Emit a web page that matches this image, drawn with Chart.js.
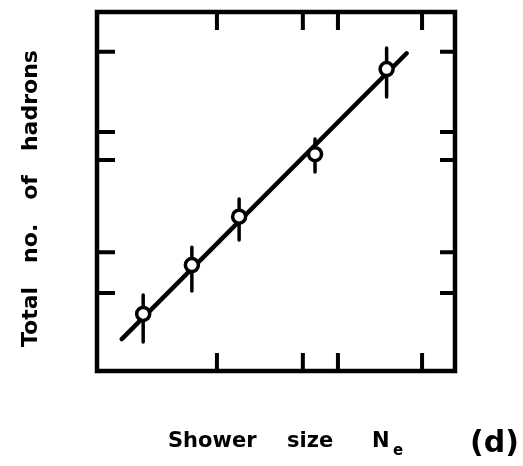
<!DOCTYPE html>
<html>
<head>
<meta charset="utf-8">
<script src="https://cdn.jsdelivr.net/npm/chart.js@4"></script>
<style>
  body { margin: 0; background: #fff; }
  canvas { display: block; }
</style>
</head>
<body>
<canvas id="canvas" width="523" height="466"></canvas>
<script>
var canvas = document.getElementById("canvas");
var ctx = canvas.getContext("2d");

// values (axes have no numbers, so 0..100 units)
var pointX = [12.9, 26.5, 39.7, 60.9, 80.9];
var pointY = [15.9, 29.5, 43.0, 60.4, 84.1];
var errLow = [8.1, 22.3, 36.5, 55.4, 76.3];
var errHigh = [21.2, 34.5, 47.9, 64.6, 90.0];
var fitX = [6.9, 86.5];
var fitY = [8.9, 88.5];
var xTicks = [33.5, 57.5, 67.3, 90.8];
var yTicks = [21.7, 33.1, 58.8, 66.6, 88.9];

var yWords = ["Total", "no.", "of", "hadrons"];

var datasets = [];

datasets.push({
    type: 'line',
    data: fitX.map(function (x, i) { return {x: x, y: fitY[i]}; }),
    borderColor: '#000',
    borderWidth: 4.5,
    borderCapStyle: 'round',
    pointRadius: 0,
    order: 3
});

for (let i = 0; i < pointX.length; i++) {
    datasets.push({
        type: 'line',
        data: [{x: pointX[i], y: errLow[i]}, {x: pointX[i], y: errHigh[i]}],
        borderColor: '#000',
        borderWidth: 3.5,
        borderCapStyle: 'round',
        pointRadius: 0,
        order: 2
    });
}

datasets.push({
    type: 'scatter',
    data: pointX.map(function (x, i) { return {x: x, y: pointY[i]}; }),
    pointRadius: 6.5,
    pointBorderWidth: 3.5,
    borderColor: '#000',
    backgroundColor: '#fff',
    order: 1
});

var framePlugin = {
    id: 'frame',
    afterDatasetsDraw: function (chart) {
        var a = chart.chartArea;
        var xs = chart.scales.x, ys = chart.scales.y;
        var c = chart.ctx;
        c.save();
        c.strokeStyle = '#000';
        c.lineCap = 'square';
        c.lineWidth = 4.5;
        c.strokeRect(a.left, a.top, a.right - a.left, a.bottom - a.top);

        c.lineWidth = 4;
        c.lineCap = 'butt';
        let len = 18;
        xTicks.forEach(function (v) {
            let px = xs.getPixelForValue(v);
            c.beginPath();
            c.moveTo(px, a.bottom); c.lineTo(px, a.bottom - len);
            c.moveTo(px, a.top); c.lineTo(px, a.top + len);
            c.stroke();
        });
        yTicks.forEach(function (v) {
            let py = ys.getPixelForValue(v);
            c.beginPath();
            c.moveTo(a.left, py); c.lineTo(a.left + len, py);
            c.moveTo(a.right, py); c.lineTo(a.right - 15, py);
            c.stroke();
        });

        // axis titles
        c.fillStyle = '#000';
        c.textBaseline = 'alphabetic';
        c.textAlign = 'left';
        c.font = 'bold 21px "DejaVu Sans"';
        c.fillText('Shower', 168, 447);
        c.fillText('size', 287, 447);
        c.fillText('N', 372, 447);
        c.font = 'bold 15px "DejaVu Sans"';
        c.fillText('e', 393, 455);
        c.font = 'bold 30px "DejaVu Sans"';
        c.fillText('(d)', 470, 452);

        c.translate(37, 347);
        c.rotate(-Math.PI / 2);
        c.font = 'bold 22px "DejaVu Sans"';
        let pos = 0;
        yWords.forEach(function (w) {
            c.fillText(w, pos, 0);
            pos += c.measureText(w).width + 24;
        });
        c.restore();
    }
};

var myChart = new Chart(ctx, {
    type: 'scatter',
    data: {datasets: datasets},
    options: {
        responsive: false,
        animation: false,
        layout: {padding: {left: 97, top: 12, right: 68, bottom: 95}},
        plugins: {legend: {display: false}, tooltip: {enabled: false}},
        scales: {
            x: {type: 'linear', min: 0, max: 100, display: false},
            y: {type: 'linear', min: 0, max: 100, display: false}
        }
    },
    plugins: [framePlugin]
});
</script>
</body>
</html>
